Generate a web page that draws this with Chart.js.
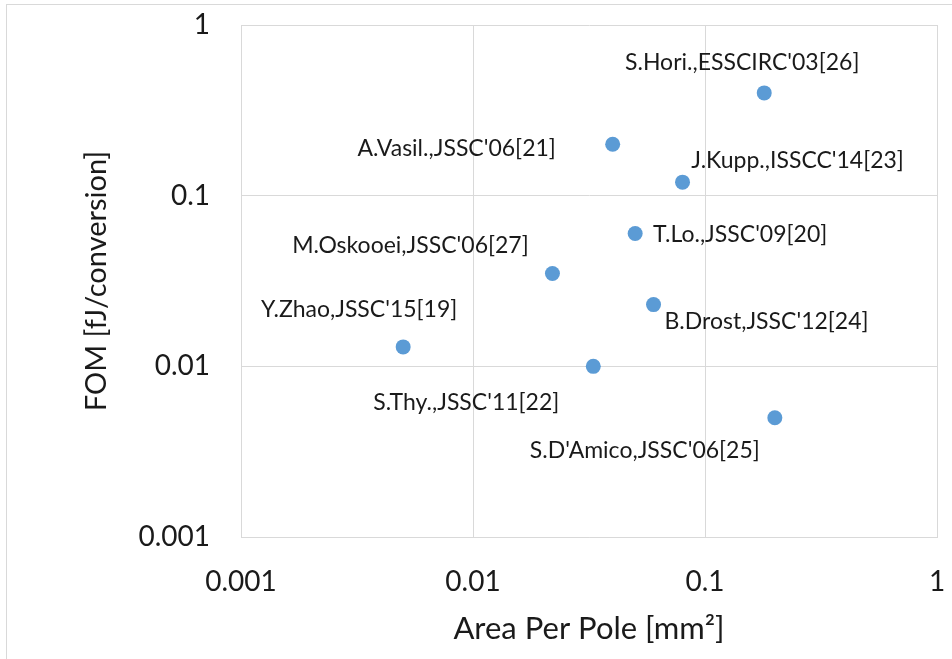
<!DOCTYPE html>
<html>
<head>
<meta charset="utf-8">
<script src="https://cdn.jsdelivr.net/npm/chart.js@4/dist/chart.umd.min.js"></script>
<style>
  html, body { margin: 0; padding: 0; background: #fff; overflow: hidden; }
  #wrap { position: relative; width: 952px; height: 659px; }
  #frame { position: absolute; left: 6px; top: 4px; width: 980px; height: 700px; border: 1px solid #d9d9d9; box-sizing: border-box; }
  canvas { position: absolute; left: 0; top: 0; }
</style>
</head>
<body>
<div id="wrap">
  <div id="frame"></div>
  <canvas id="chart" width="952" height="659"></canvas>
</div>
<script>
// Datos (escala log-log)
const refs = [
  "S.Hori.,ESSCIRC'03[26]",
  "A.Vasil.,JSSC'06[21]",
  "J.Kupp.,ISSCC'14[23]",
  "T.Lo.,JSSC'09[20]",
  "M.Oskooei,JSSC'06[27]",
  "B.Drost,JSSC'12[24]",
  "Y.Zhao,JSSC'15[19]",
  "S.Thy.,JSSC'11[22]",
  "S.D'Amico,JSSC'06[25]",
];
const areaMm2 = [0.18, 0.04, 0.08, 0.05, 0.022, 0.06, 0.005, 0.033, 0.2];
const fomFj = [0.4, 0.2, 0.12, 0.06, 0.035, 0.023, 0.013, 0.01, 0.005];
const decadeTicks = [0.001, 0.01, 0.1, 1];

// Desplazamiento (px) de cada etiqueta respecto a su punto
const labelOffsets = [
  [-22, -30], [-156, 4], [115, -22], [105, 1], [-142, -28],
  [113, 17], [-44, -37], [-127, 36], [-130, 33],
];

const FONT = 'Lato, "Open Sans", sans-serif';
const GRID = '#d9d9d9';
const TEXT = '#1a1a1a';

const pointLabels = {
  id: 'pointLabels',
  afterDatasetsDraw(chart) {
    const { ctx } = chart;
    const meta = chart.getDatasetMeta(0);
    ctx.save();
    ctx.font = `23px ${FONT}`;
    ctx.fillStyle = TEXT;
    ctx.textAlign = 'center';
    ctx.textBaseline = 'middle';
    meta.data.forEach((pt, i) => {
      const [dx, dy] = labelOffsets[i];
      ctx.fillText(refs[i], pt.x + dx, pt.y + dy);
    });
    ctx.restore();
  },
};

const decades = scale => { scale.ticks = decadeTicks.map(v => ({ value: v })); };

new Chart(document.getElementById('chart'), {
  type: 'scatter',
  data: {
    datasets: [{
      label: 'FOM',
      data: areaMm2.map((x, i) => ({ x, y: fomFj[i] })),
      backgroundColor: '#5b9bd5',
      borderColor: '#5b9bd5',
      pointRadius: 7.5,
      borderWidth: 0,
      clip: false,
    }],
  },
  options: {
    responsive: false,
    animation: false,
    events: [],
    layout: { autoPadding: false, padding: { top: 25, right: 15, left: 0, bottom: 0 } },
    plugins: { legend: { display: false }, tooltip: { enabled: false } },
    scales: {
      x: {
        type: 'logarithmic', min: 0.001, max: 1,
        afterBuildTicks: decades,
        afterFit: s => { s.height = 122; s.paddingRight = 0; s.paddingLeft = 0; },
        grid: { color: GRID, lineWidth: 1, drawTicks: false },
        border: { color: GRID },
        ticks: { color: TEXT, font: { family: FONT, size: 28 }, padding: 28, maxRotation: 0, callback: v => String(v) },
        title: { display: true, text: 'Area Per Pole [mm²]', color: TEXT, font: { family: FONT, size: 31 }, padding: { top: 0, bottom: 11 } },
      },
      y: {
        type: 'logarithmic', min: 0.001, max: 1,
        afterBuildTicks: decades,
        afterFit: s => { s.width = 241; s.paddingTop = 0; s.paddingBottom = 0; },
        grid: { color: GRID, lineWidth: 1, drawTicks: false },
        border: { color: GRID },
        ticks: { color: TEXT, font: { family: FONT, size: 28 }, padding: 31, callback: v => String(v) },
        title: { display: true, text: 'FOM [fJ/conversion]', color: TEXT, font: { family: FONT, size: 29 }, padding: { top: 79, bottom: 0 } },
      },
    },
  },
  plugins: [pointLabels],
});
</script>
</body>
</html>
